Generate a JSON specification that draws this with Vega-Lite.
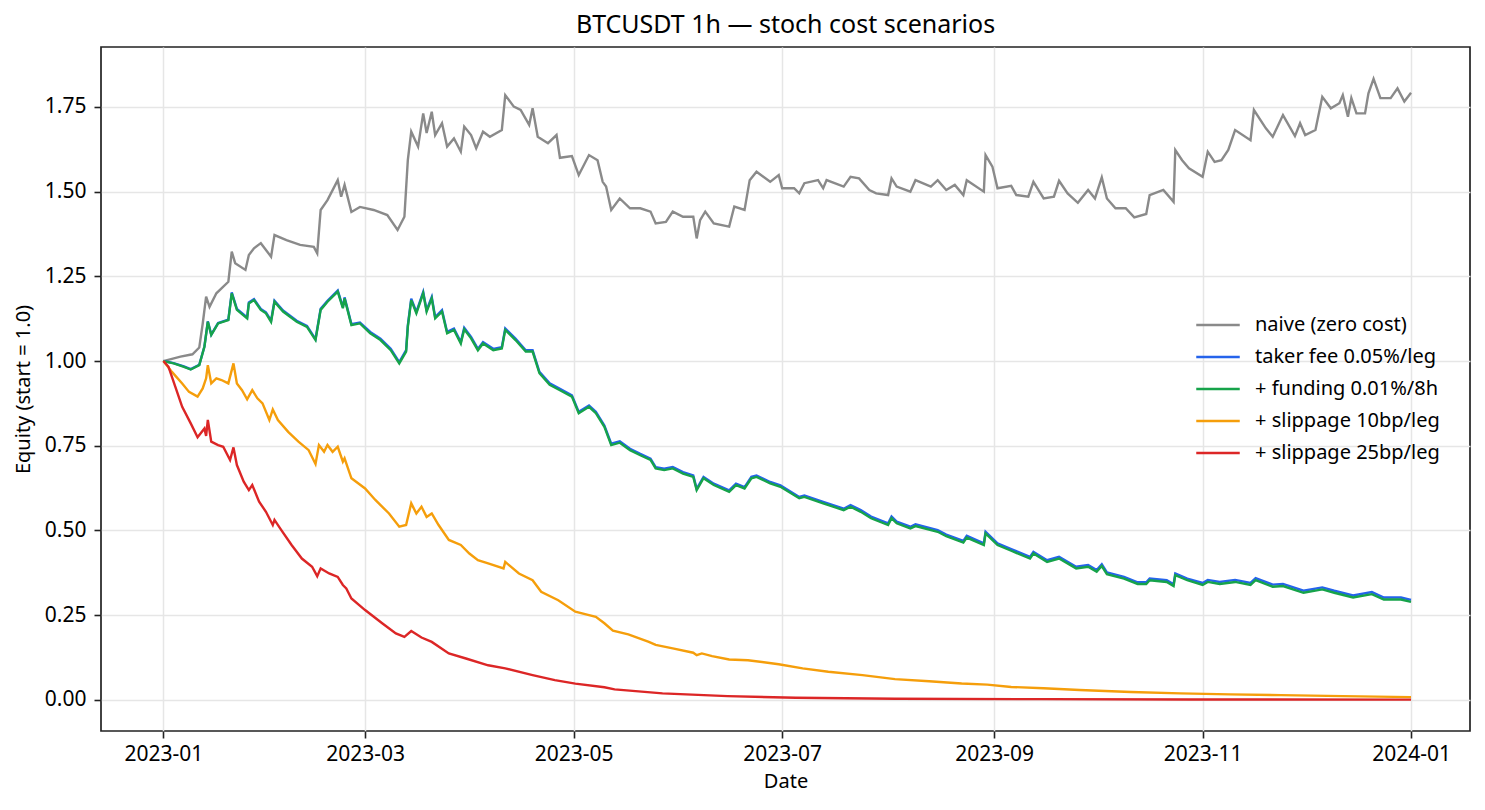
{
  "$schema": "https://vega.github.io/schema/vega-lite/v6.json",
  "autosize": "none",
  "width": 1369,
  "height": 684,
  "padding": {"left": 101, "top": 47, "right": 15, "bottom": 79},
  "background": "white",
  "config": {
    "font": "Noto Sans",
    "view": {"stroke": "#222222", "strokeWidth": 1.7},
    "axis": {
      "domain": false,
      "gridColor": "#e6e6e6",
      "gridWidth": 1.5,
      "tickColor": "#222222",
      "tickSize": 7,
      "tickWidth": 1.6,
      "labelFontSize": 21,
      "labelColor": "#000000",
      "titleFontSize": 20,
      "titleFontWeight": "normal",
      "titleColor": "#000000"
    }
  },
  "title": {
    "text": "BTCUSDT 1h — stoch cost scenarios",
    "fontSize": 25,
    "fontWeight": "normal",
    "color": "#000000",
    "offset": 9
  },
  "datasets": {
    "naive": [
      {"t": "2023-01-01T00:00", "v": 1.000}, {"t": "2023-01-06T00:00", "v": 1.013}, {"t": "2023-01-09T12:00", "v": 1.020},
      {"t": "2023-01-11T12:00", "v": 1.040}, {"t": "2023-01-12T12:00", "v": 1.110}, {"t": "2023-01-13T12:00", "v": 1.190},
      {"t": "2023-01-14T12:00", "v": 1.160}, {"t": "2023-01-16T12:00", "v": 1.200}, {"t": "2023-01-20T00:00", "v": 1.234},
      {"t": "2023-01-21T00:00", "v": 1.323}, {"t": "2023-01-22T00:00", "v": 1.289}, {"t": "2023-01-25T00:00", "v": 1.269},
      {"t": "2023-01-26T00:00", "v": 1.313}, {"t": "2023-01-27T12:00", "v": 1.333}, {"t": "2023-01-29T12:00", "v": 1.348},
      {"t": "2023-02-01T12:00", "v": 1.308}, {"t": "2023-02-02T12:00", "v": 1.372}, {"t": "2023-02-06T00:00", "v": 1.357},
      {"t": "2023-02-10T00:00", "v": 1.343}, {"t": "2023-02-14T00:00", "v": 1.337}, {"t": "2023-02-15T00:00", "v": 1.318},
      {"t": "2023-02-16T00:00", "v": 1.446}, {"t": "2023-02-18T00:00", "v": 1.475}, {"t": "2023-02-21T00:00", "v": 1.534},
      {"t": "2023-02-22T00:00", "v": 1.485}, {"t": "2023-02-23T00:00", "v": 1.520}, {"t": "2023-02-25T00:00", "v": 1.440},
      {"t": "2023-02-27T12:00", "v": 1.455}, {"t": "2023-03-03T12:00", "v": 1.446}, {"t": "2023-03-07T12:00", "v": 1.431},
      {"t": "2023-03-10T12:00", "v": 1.387}, {"t": "2023-03-12T12:00", "v": 1.426}, {"t": "2023-03-13T12:00", "v": 1.593},
      {"t": "2023-03-14T12:00", "v": 1.677}, {"t": "2023-03-16T12:00", "v": 1.633}, {"t": "2023-03-18T00:00", "v": 1.731},
      {"t": "2023-03-19T00:00", "v": 1.673}, {"t": "2023-03-20T12:00", "v": 1.736}, {"t": "2023-03-21T12:00", "v": 1.667},
      {"t": "2023-03-23T12:00", "v": 1.702}, {"t": "2023-03-25T00:00", "v": 1.633}, {"t": "2023-03-27T00:00", "v": 1.657},
      {"t": "2023-03-29T00:00", "v": 1.618}, {"t": "2023-03-30T00:00", "v": 1.692}, {"t": "2023-04-01T00:00", "v": 1.667},
      {"t": "2023-04-02T12:00", "v": 1.628}, {"t": "2023-04-04T12:00", "v": 1.677}, {"t": "2023-04-06T12:00", "v": 1.662},
      {"t": "2023-04-10T00:00", "v": 1.682}, {"t": "2023-04-11T00:00", "v": 1.785}, {"t": "2023-04-13T12:00", "v": 1.751},
      {"t": "2023-04-15T12:00", "v": 1.741}, {"t": "2023-04-18T00:00", "v": 1.697}, {"t": "2023-04-19T00:00", "v": 1.746},
      {"t": "2023-04-20T12:00", "v": 1.662}, {"t": "2023-04-23T12:00", "v": 1.643}, {"t": "2023-04-26T00:00", "v": 1.667},
      {"t": "2023-04-27T00:00", "v": 1.600}, {"t": "2023-04-30T12:00", "v": 1.605}, {"t": "2023-05-02T12:00", "v": 1.549},
      {"t": "2023-05-05T12:00", "v": 1.608}, {"t": "2023-05-08T00:00", "v": 1.593}, {"t": "2023-05-09T12:00", "v": 1.529},
      {"t": "2023-05-10T12:00", "v": 1.515}, {"t": "2023-05-12T00:00", "v": 1.446}, {"t": "2023-05-14T12:00", "v": 1.480},
      {"t": "2023-05-17T12:00", "v": 1.451}, {"t": "2023-05-20T12:00", "v": 1.451}, {"t": "2023-05-23T12:00", "v": 1.441},
      {"t": "2023-05-25T00:00", "v": 1.406}, {"t": "2023-05-28T00:00", "v": 1.411}, {"t": "2023-05-30T00:00", "v": 1.441},
      {"t": "2023-06-02T00:00", "v": 1.426}, {"t": "2023-06-05T00:00", "v": 1.426}, {"t": "2023-06-06T00:00", "v": 1.362},
      {"t": "2023-06-07T00:00", "v": 1.416}, {"t": "2023-06-08T12:00", "v": 1.441}, {"t": "2023-06-11T00:00", "v": 1.406},
      {"t": "2023-06-15T12:00", "v": 1.397}, {"t": "2023-06-17T00:00", "v": 1.456}, {"t": "2023-06-20T00:00", "v": 1.446},
      {"t": "2023-06-21T12:00", "v": 1.534}, {"t": "2023-06-23T12:00", "v": 1.559}, {"t": "2023-06-27T12:00", "v": 1.529},
      {"t": "2023-06-30T00:00", "v": 1.549}, {"t": "2023-07-01T00:00", "v": 1.510}, {"t": "2023-07-04T12:00", "v": 1.510},
      {"t": "2023-07-06T00:00", "v": 1.495}, {"t": "2023-07-07T12:00", "v": 1.525}, {"t": "2023-07-11T12:00", "v": 1.534},
      {"t": "2023-07-13T00:00", "v": 1.510}, {"t": "2023-07-14T00:00", "v": 1.534}, {"t": "2023-07-19T00:00", "v": 1.515},
      {"t": "2023-07-21T00:00", "v": 1.544}, {"t": "2023-07-23T12:00", "v": 1.539}, {"t": "2023-07-26T12:00", "v": 1.505},
      {"t": "2023-07-28T12:00", "v": 1.495}, {"t": "2023-08-01T00:00", "v": 1.490}, {"t": "2023-08-02T00:00", "v": 1.539},
      {"t": "2023-08-03T12:00", "v": 1.515}, {"t": "2023-08-07T12:00", "v": 1.500}, {"t": "2023-08-09T00:00", "v": 1.534},
      {"t": "2023-08-13T12:00", "v": 1.515}, {"t": "2023-08-15T12:00", "v": 1.534}, {"t": "2023-08-18T00:00", "v": 1.505},
      {"t": "2023-08-20T12:00", "v": 1.520}, {"t": "2023-08-23T00:00", "v": 1.490}, {"t": "2023-08-24T00:00", "v": 1.534},
      {"t": "2023-08-29T00:00", "v": 1.500}, {"t": "2023-08-29T12:00", "v": 1.608}, {"t": "2023-08-31T12:00", "v": 1.574},
      {"t": "2023-09-02T00:00", "v": 1.510}, {"t": "2023-09-06T00:00", "v": 1.517}, {"t": "2023-09-07T12:00", "v": 1.490},
      {"t": "2023-09-11T00:00", "v": 1.485}, {"t": "2023-09-12T12:00", "v": 1.529}, {"t": "2023-09-15T12:00", "v": 1.480},
      {"t": "2023-09-18T12:00", "v": 1.485}, {"t": "2023-09-20T00:00", "v": 1.532}, {"t": "2023-09-22T12:00", "v": 1.495},
      {"t": "2023-09-25T12:00", "v": 1.467}, {"t": "2023-09-28T12:00", "v": 1.505}, {"t": "2023-09-30T12:00", "v": 1.480},
      {"t": "2023-10-02T12:00", "v": 1.542}, {"t": "2023-10-04T00:00", "v": 1.480}, {"t": "2023-10-06T12:00", "v": 1.451},
      {"t": "2023-10-09T12:00", "v": 1.451}, {"t": "2023-10-12T00:00", "v": 1.424}, {"t": "2023-10-15T12:00", "v": 1.434},
      {"t": "2023-10-16T12:00", "v": 1.490}, {"t": "2023-10-20T12:00", "v": 1.505}, {"t": "2023-10-23T12:00", "v": 1.470},
      {"t": "2023-10-24T00:00", "v": 1.623}, {"t": "2023-10-26T00:00", "v": 1.593}, {"t": "2023-10-28T00:00", "v": 1.569},
      {"t": "2023-11-01T00:00", "v": 1.544}, {"t": "2023-11-02T12:00", "v": 1.618}, {"t": "2023-11-04T12:00", "v": 1.588},
      {"t": "2023-11-06T12:00", "v": 1.593}, {"t": "2023-11-08T12:00", "v": 1.623}, {"t": "2023-11-10T12:00", "v": 1.682},
      {"t": "2023-11-15T00:00", "v": 1.652}, {"t": "2023-11-16T00:00", "v": 1.741}, {"t": "2023-11-19T12:00", "v": 1.687},
      {"t": "2023-11-21T12:00", "v": 1.662}, {"t": "2023-11-24T12:00", "v": 1.726}, {"t": "2023-11-28T00:00", "v": 1.664},
      {"t": "2023-11-29T12:00", "v": 1.702}, {"t": "2023-12-01T00:00", "v": 1.667}, {"t": "2023-12-04T00:00", "v": 1.682},
      {"t": "2023-12-06T00:00", "v": 1.780}, {"t": "2023-12-08T12:00", "v": 1.746}, {"t": "2023-12-11T00:00", "v": 1.761},
      {"t": "2023-12-12T00:00", "v": 1.785}, {"t": "2023-12-13T12:00", "v": 1.721}, {"t": "2023-12-14T12:00", "v": 1.776},
      {"t": "2023-12-16T00:00", "v": 1.731}, {"t": "2023-12-18T12:00", "v": 1.731}, {"t": "2023-12-19T12:00", "v": 1.790},
      {"t": "2023-12-21T00:00", "v": 1.833}, {"t": "2023-12-23T00:00", "v": 1.776}, {"t": "2023-12-26T00:00", "v": 1.776},
      {"t": "2023-12-28T00:00", "v": 1.805}, {"t": "2023-12-30T00:00", "v": 1.766}, {"t": "2023-12-31T23:00", "v": 1.792}
    ],
    "taker": [
      {"t": "2023-01-01T00:00", "v": 1.000}, {"t": "2023-01-04T00:00", "v": 0.994}, {"t": "2023-01-07T00:00", "v": 0.984},
      {"t": "2023-01-09T00:00", "v": 0.976}, {"t": "2023-01-11T12:00", "v": 0.989}, {"t": "2023-01-13T00:00", "v": 1.043},
      {"t": "2023-01-14T00:00", "v": 1.117}, {"t": "2023-01-15T00:00", "v": 1.078}, {"t": "2023-01-17T00:00", "v": 1.112},
      {"t": "2023-01-20T00:00", "v": 1.122}, {"t": "2023-01-21T00:00", "v": 1.203}, {"t": "2023-01-22T12:00", "v": 1.154},
      {"t": "2023-01-25T12:00", "v": 1.129}, {"t": "2023-01-26T00:00", "v": 1.173}, {"t": "2023-01-27T12:00", "v": 1.183},
      {"t": "2023-01-29T12:00", "v": 1.154}, {"t": "2023-01-31T00:00", "v": 1.144}, {"t": "2023-02-01T12:00", "v": 1.119},
      {"t": "2023-02-02T12:00", "v": 1.178}, {"t": "2023-02-05T00:00", "v": 1.149}, {"t": "2023-02-09T00:00", "v": 1.119},
      {"t": "2023-02-12T00:00", "v": 1.104}, {"t": "2023-02-14T12:00", "v": 1.065}, {"t": "2023-02-16T00:00", "v": 1.154},
      {"t": "2023-02-18T00:00", "v": 1.178}, {"t": "2023-02-21T00:00", "v": 1.208}, {"t": "2023-02-22T12:00", "v": 1.159},
      {"t": "2023-02-23T00:00", "v": 1.188}, {"t": "2023-02-25T00:00", "v": 1.109}, {"t": "2023-02-27T12:00", "v": 1.114},
      {"t": "2023-03-02T12:00", "v": 1.086}, {"t": "2023-03-05T12:00", "v": 1.066}, {"t": "2023-03-08T12:00", "v": 1.036},
      {"t": "2023-03-11T00:00", "v": 0.997}, {"t": "2023-03-13T00:00", "v": 1.032}, {"t": "2023-03-13T12:00", "v": 1.105},
      {"t": "2023-03-14T12:00", "v": 1.184}, {"t": "2023-03-16T00:00", "v": 1.145}, {"t": "2023-03-18T00:00", "v": 1.204},
      {"t": "2023-03-19T00:00", "v": 1.150}, {"t": "2023-03-20T12:00", "v": 1.189}, {"t": "2023-03-21T12:00", "v": 1.130},
      {"t": "2023-03-23T12:00", "v": 1.150}, {"t": "2023-03-25T00:00", "v": 1.086}, {"t": "2023-03-27T00:00", "v": 1.096},
      {"t": "2023-03-29T00:00", "v": 1.056}, {"t": "2023-03-30T00:00", "v": 1.098}, {"t": "2023-04-01T00:00", "v": 1.071},
      {"t": "2023-04-03T00:00", "v": 1.036}, {"t": "2023-04-04T12:00", "v": 1.056}, {"t": "2023-04-07T12:00", "v": 1.036},
      {"t": "2023-04-10T00:00", "v": 1.041}, {"t": "2023-04-11T00:00", "v": 1.096}, {"t": "2023-04-14T00:00", "v": 1.066},
      {"t": "2023-04-17T00:00", "v": 1.032}, {"t": "2023-04-19T00:00", "v": 1.032}, {"t": "2023-04-21T00:00", "v": 0.968},
      {"t": "2023-04-24T00:00", "v": 0.934}, {"t": "2023-04-27T00:00", "v": 0.918}, {"t": "2023-04-30T12:00", "v": 0.899},
      {"t": "2023-05-02T12:00", "v": 0.850}, {"t": "2023-05-05T12:00", "v": 0.869}, {"t": "2023-05-07T12:00", "v": 0.850},
      {"t": "2023-05-10T00:00", "v": 0.810}, {"t": "2023-05-12T00:00", "v": 0.756}, {"t": "2023-05-14T12:00", "v": 0.763},
      {"t": "2023-05-17T12:00", "v": 0.741}, {"t": "2023-05-20T12:00", "v": 0.726}, {"t": "2023-05-23T12:00", "v": 0.712},
      {"t": "2023-05-25T00:00", "v": 0.687}, {"t": "2023-05-27T12:00", "v": 0.682}, {"t": "2023-05-30T00:00", "v": 0.687},
      {"t": "2023-06-02T00:00", "v": 0.672}, {"t": "2023-06-05T00:00", "v": 0.662}, {"t": "2023-06-06T00:00", "v": 0.623},
      {"t": "2023-06-08T00:00", "v": 0.658}, {"t": "2023-06-11T00:00", "v": 0.638}, {"t": "2023-06-15T12:00", "v": 0.618},
      {"t": "2023-06-17T12:00", "v": 0.638}, {"t": "2023-06-20T00:00", "v": 0.628}, {"t": "2023-06-22T00:00", "v": 0.658},
      {"t": "2023-06-23T12:00", "v": 0.662}, {"t": "2023-06-27T12:00", "v": 0.643}, {"t": "2023-06-30T12:00", "v": 0.633},
      {"t": "2023-07-06T00:00", "v": 0.599}, {"t": "2023-07-07T12:00", "v": 0.603}, {"t": "2023-07-13T00:00", "v": 0.584},
      {"t": "2023-07-19T00:00", "v": 0.564}, {"t": "2023-07-21T00:00", "v": 0.575}, {"t": "2023-07-24T00:00", "v": 0.560},
      {"t": "2023-07-27T00:00", "v": 0.541}, {"t": "2023-08-01T00:00", "v": 0.521}, {"t": "2023-08-02T00:00", "v": 0.541},
      {"t": "2023-08-03T12:00", "v": 0.526}, {"t": "2023-08-07T12:00", "v": 0.511}, {"t": "2023-08-09T00:00", "v": 0.518},
      {"t": "2023-08-15T12:00", "v": 0.501}, {"t": "2023-08-18T00:00", "v": 0.488}, {"t": "2023-08-23T00:00", "v": 0.469},
      {"t": "2023-08-24T00:00", "v": 0.484}, {"t": "2023-08-29T00:00", "v": 0.462}, {"t": "2023-08-29T12:00", "v": 0.496},
      {"t": "2023-09-02T00:00", "v": 0.462}, {"t": "2023-09-06T00:00", "v": 0.445}, {"t": "2023-09-11T12:00", "v": 0.422},
      {"t": "2023-09-12T12:00", "v": 0.437}, {"t": "2023-09-16T12:00", "v": 0.412}, {"t": "2023-09-20T00:00", "v": 0.422},
      {"t": "2023-09-25T00:00", "v": 0.393}, {"t": "2023-09-28T12:00", "v": 0.398}, {"t": "2023-10-01T00:00", "v": 0.383},
      {"t": "2023-10-02T12:00", "v": 0.400}, {"t": "2023-10-04T00:00", "v": 0.376}, {"t": "2023-10-09T00:00", "v": 0.363},
      {"t": "2023-10-13T00:00", "v": 0.347}, {"t": "2023-10-15T12:00", "v": 0.347}, {"t": "2023-10-16T12:00", "v": 0.358},
      {"t": "2023-10-21T12:00", "v": 0.353}, {"t": "2023-10-23T12:00", "v": 0.341}, {"t": "2023-10-24T00:00", "v": 0.373},
      {"t": "2023-10-27T12:00", "v": 0.358}, {"t": "2023-11-01T00:00", "v": 0.345}, {"t": "2023-11-02T12:00", "v": 0.354},
      {"t": "2023-11-06T00:00", "v": 0.348}, {"t": "2023-11-10T12:00", "v": 0.354}, {"t": "2023-11-15T00:00", "v": 0.345},
      {"t": "2023-11-16T12:00", "v": 0.359}, {"t": "2023-11-21T12:00", "v": 0.340}, {"t": "2023-11-24T12:00", "v": 0.342},
      {"t": "2023-11-30T12:00", "v": 0.322}, {"t": "2023-12-06T00:00", "v": 0.332}, {"t": "2023-12-09T12:00", "v": 0.322},
      {"t": "2023-12-15T00:00", "v": 0.308}, {"t": "2023-12-20T12:00", "v": 0.318}, {"t": "2023-12-24T00:00", "v": 0.302},
      {"t": "2023-12-29T00:00", "v": 0.302}, {"t": "2023-12-31T23:00", "v": 0.295}
    ],
    "funding": [
      {"t": "2023-01-01T00:00", "v": 1.000}, {"t": "2023-01-04T00:00", "v": 0.993}, {"t": "2023-01-07T00:00", "v": 0.983},
      {"t": "2023-01-09T00:00", "v": 0.975}, {"t": "2023-01-11T12:00", "v": 0.988}, {"t": "2023-01-13T00:00", "v": 1.042},
      {"t": "2023-01-14T00:00", "v": 1.116}, {"t": "2023-01-15T00:00", "v": 1.077}, {"t": "2023-01-17T00:00", "v": 1.111},
      {"t": "2023-01-20T00:00", "v": 1.121}, {"t": "2023-01-21T00:00", "v": 1.200}, {"t": "2023-01-22T12:00", "v": 1.151},
      {"t": "2023-01-25T12:00", "v": 1.126}, {"t": "2023-01-26T00:00", "v": 1.170}, {"t": "2023-01-27T12:00", "v": 1.180},
      {"t": "2023-01-29T12:00", "v": 1.151}, {"t": "2023-01-31T00:00", "v": 1.141}, {"t": "2023-02-01T12:00", "v": 1.116},
      {"t": "2023-02-02T12:00", "v": 1.175}, {"t": "2023-02-05T00:00", "v": 1.146}, {"t": "2023-02-09T00:00", "v": 1.116},
      {"t": "2023-02-12T00:00", "v": 1.101}, {"t": "2023-02-14T12:00", "v": 1.062}, {"t": "2023-02-16T00:00", "v": 1.151},
      {"t": "2023-02-18T00:00", "v": 1.175}, {"t": "2023-02-21T00:00", "v": 1.205}, {"t": "2023-02-22T12:00", "v": 1.156},
      {"t": "2023-02-23T00:00", "v": 1.185}, {"t": "2023-02-25T00:00", "v": 1.106}, {"t": "2023-02-27T12:00", "v": 1.111},
      {"t": "2023-03-02T12:00", "v": 1.082}, {"t": "2023-03-05T12:00", "v": 1.062}, {"t": "2023-03-08T12:00", "v": 1.032},
      {"t": "2023-03-11T00:00", "v": 0.993}, {"t": "2023-03-13T00:00", "v": 1.028}, {"t": "2023-03-13T12:00", "v": 1.101},
      {"t": "2023-03-14T12:00", "v": 1.180}, {"t": "2023-03-16T00:00", "v": 1.141}, {"t": "2023-03-18T00:00", "v": 1.200},
      {"t": "2023-03-19T00:00", "v": 1.146}, {"t": "2023-03-20T12:00", "v": 1.185}, {"t": "2023-03-21T12:00", "v": 1.126},
      {"t": "2023-03-23T12:00", "v": 1.146}, {"t": "2023-03-25T00:00", "v": 1.082}, {"t": "2023-03-27T00:00", "v": 1.092},
      {"t": "2023-03-29T00:00", "v": 1.052}, {"t": "2023-03-30T00:00", "v": 1.094}, {"t": "2023-04-01T00:00", "v": 1.067},
      {"t": "2023-04-03T00:00", "v": 1.032}, {"t": "2023-04-04T12:00", "v": 1.052}, {"t": "2023-04-07T12:00", "v": 1.032},
      {"t": "2023-04-10T00:00", "v": 1.037}, {"t": "2023-04-11T00:00", "v": 1.092}, {"t": "2023-04-14T00:00", "v": 1.062},
      {"t": "2023-04-17T00:00", "v": 1.028}, {"t": "2023-04-19T00:00", "v": 1.028}, {"t": "2023-04-21T00:00", "v": 0.964},
      {"t": "2023-04-24T00:00", "v": 0.930}, {"t": "2023-04-27T00:00", "v": 0.914}, {"t": "2023-04-30T12:00", "v": 0.895},
      {"t": "2023-05-02T12:00", "v": 0.846}, {"t": "2023-05-05T12:00", "v": 0.865}, {"t": "2023-05-07T12:00", "v": 0.846},
      {"t": "2023-05-10T00:00", "v": 0.806}, {"t": "2023-05-12T00:00", "v": 0.752}, {"t": "2023-05-14T12:00", "v": 0.759},
      {"t": "2023-05-17T12:00", "v": 0.737}, {"t": "2023-05-20T12:00", "v": 0.722}, {"t": "2023-05-23T12:00", "v": 0.708},
      {"t": "2023-05-25T00:00", "v": 0.683}, {"t": "2023-05-27T12:00", "v": 0.678}, {"t": "2023-05-30T00:00", "v": 0.683},
      {"t": "2023-06-02T00:00", "v": 0.668}, {"t": "2023-06-05T00:00", "v": 0.658}, {"t": "2023-06-06T00:00", "v": 0.619},
      {"t": "2023-06-08T00:00", "v": 0.654}, {"t": "2023-06-11T00:00", "v": 0.634}, {"t": "2023-06-15T12:00", "v": 0.614},
      {"t": "2023-06-17T12:00", "v": 0.634}, {"t": "2023-06-20T00:00", "v": 0.624}, {"t": "2023-06-22T00:00", "v": 0.654},
      {"t": "2023-06-23T12:00", "v": 0.658}, {"t": "2023-06-27T12:00", "v": 0.639}, {"t": "2023-06-30T12:00", "v": 0.629},
      {"t": "2023-07-06T00:00", "v": 0.595}, {"t": "2023-07-07T12:00", "v": 0.599}, {"t": "2023-07-13T00:00", "v": 0.580},
      {"t": "2023-07-19T00:00", "v": 0.560}, {"t": "2023-07-21T00:00", "v": 0.570}, {"t": "2023-07-24T00:00", "v": 0.555},
      {"t": "2023-07-27T00:00", "v": 0.536}, {"t": "2023-08-01T00:00", "v": 0.516}, {"t": "2023-08-02T00:00", "v": 0.536},
      {"t": "2023-08-03T12:00", "v": 0.521}, {"t": "2023-08-07T12:00", "v": 0.506}, {"t": "2023-08-09T00:00", "v": 0.513},
      {"t": "2023-08-15T12:00", "v": 0.496}, {"t": "2023-08-18T00:00", "v": 0.483}, {"t": "2023-08-23T00:00", "v": 0.464},
      {"t": "2023-08-24T00:00", "v": 0.479}, {"t": "2023-08-29T00:00", "v": 0.457}, {"t": "2023-08-29T12:00", "v": 0.491},
      {"t": "2023-09-02T00:00", "v": 0.457}, {"t": "2023-09-06T00:00", "v": 0.440}, {"t": "2023-09-11T12:00", "v": 0.417},
      {"t": "2023-09-12T12:00", "v": 0.432}, {"t": "2023-09-16T12:00", "v": 0.407}, {"t": "2023-09-20T00:00", "v": 0.417},
      {"t": "2023-09-25T00:00", "v": 0.388}, {"t": "2023-09-28T12:00", "v": 0.393}, {"t": "2023-10-01T00:00", "v": 0.378},
      {"t": "2023-10-02T12:00", "v": 0.395}, {"t": "2023-10-04T00:00", "v": 0.371}, {"t": "2023-10-09T00:00", "v": 0.358},
      {"t": "2023-10-13T00:00", "v": 0.342}, {"t": "2023-10-15T12:00", "v": 0.342}, {"t": "2023-10-16T12:00", "v": 0.353},
      {"t": "2023-10-21T12:00", "v": 0.348}, {"t": "2023-10-23T12:00", "v": 0.336}, {"t": "2023-10-24T00:00", "v": 0.368},
      {"t": "2023-10-27T12:00", "v": 0.353}, {"t": "2023-11-01T00:00", "v": 0.339}, {"t": "2023-11-02T12:00", "v": 0.348},
      {"t": "2023-11-06T00:00", "v": 0.342}, {"t": "2023-11-10T12:00", "v": 0.348}, {"t": "2023-11-15T00:00", "v": 0.339},
      {"t": "2023-11-16T12:00", "v": 0.353}, {"t": "2023-11-21T12:00", "v": 0.334}, {"t": "2023-11-24T12:00", "v": 0.336},
      {"t": "2023-11-30T12:00", "v": 0.316}, {"t": "2023-12-06T00:00", "v": 0.326}, {"t": "2023-12-09T12:00", "v": 0.316},
      {"t": "2023-12-15T00:00", "v": 0.302}, {"t": "2023-12-20T12:00", "v": 0.312}, {"t": "2023-12-24T00:00", "v": 0.296},
      {"t": "2023-12-29T00:00", "v": 0.296}, {"t": "2023-12-31T23:00", "v": 0.289}
    ],
    "slip10": [
      {"t": "2023-01-01T00:00", "v": 1.000}, {"t": "2023-01-03T12:00", "v": 0.968}, {"t": "2023-01-06T12:00", "v": 0.934},
      {"t": "2023-01-08T12:00", "v": 0.909}, {"t": "2023-01-11T00:00", "v": 0.895}, {"t": "2023-01-12T12:00", "v": 0.919},
      {"t": "2023-01-13T12:00", "v": 0.949}, {"t": "2023-01-14T00:00", "v": 0.988}, {"t": "2023-01-15T00:00", "v": 0.934},
      {"t": "2023-01-16T12:00", "v": 0.949}, {"t": "2023-01-18T00:00", "v": 0.944}, {"t": "2023-01-20T00:00", "v": 0.934},
      {"t": "2023-01-21T12:00", "v": 0.993}, {"t": "2023-01-22T12:00", "v": 0.934}, {"t": "2023-01-24T00:00", "v": 0.914},
      {"t": "2023-01-25T12:00", "v": 0.887}, {"t": "2023-01-27T00:00", "v": 0.914}, {"t": "2023-01-28T12:00", "v": 0.890},
      {"t": "2023-01-30T00:00", "v": 0.875}, {"t": "2023-02-01T00:00", "v": 0.826}, {"t": "2023-02-02T00:00", "v": 0.857},
      {"t": "2023-02-03T12:00", "v": 0.826}, {"t": "2023-02-06T12:00", "v": 0.791}, {"t": "2023-02-09T12:00", "v": 0.762},
      {"t": "2023-02-12T12:00", "v": 0.737}, {"t": "2023-02-14T12:00", "v": 0.696}, {"t": "2023-02-15T12:00", "v": 0.752},
      {"t": "2023-02-17T00:00", "v": 0.732}, {"t": "2023-02-18T00:00", "v": 0.752}, {"t": "2023-02-19T12:00", "v": 0.732},
      {"t": "2023-02-21T00:00", "v": 0.747}, {"t": "2023-02-22T12:00", "v": 0.703}, {"t": "2023-02-23T00:00", "v": 0.713},
      {"t": "2023-02-25T00:00", "v": 0.654}, {"t": "2023-03-01T00:00", "v": 0.624}, {"t": "2023-03-04T00:00", "v": 0.590},
      {"t": "2023-03-08T00:00", "v": 0.550}, {"t": "2023-03-11T00:00", "v": 0.511}, {"t": "2023-03-13T00:00", "v": 0.516},
      {"t": "2023-03-14T12:00", "v": 0.580}, {"t": "2023-03-16T00:00", "v": 0.550}, {"t": "2023-03-17T12:00", "v": 0.570},
      {"t": "2023-03-19T00:00", "v": 0.540}, {"t": "2023-03-20T12:00", "v": 0.550}, {"t": "2023-03-22T12:00", "v": 0.516},
      {"t": "2023-03-25T12:00", "v": 0.472}, {"t": "2023-03-29T00:00", "v": 0.457}, {"t": "2023-03-31T12:00", "v": 0.432},
      {"t": "2023-04-03T00:00", "v": 0.412}, {"t": "2023-04-06T00:00", "v": 0.403}, {"t": "2023-04-10T12:00", "v": 0.388},
      {"t": "2023-04-11T00:00", "v": 0.407}, {"t": "2023-04-15T00:00", "v": 0.373}, {"t": "2023-04-19T00:00", "v": 0.353},
      {"t": "2023-04-21T12:00", "v": 0.319}, {"t": "2023-04-26T12:00", "v": 0.294}, {"t": "2023-05-01T12:00", "v": 0.260},
      {"t": "2023-05-05T12:00", "v": 0.250}, {"t": "2023-05-07T12:00", "v": 0.245}, {"t": "2023-05-10T00:00", "v": 0.226},
      {"t": "2023-05-12T12:00", "v": 0.204}, {"t": "2023-05-17T00:00", "v": 0.193}, {"t": "2023-05-23T00:00", "v": 0.171},
      {"t": "2023-05-25T00:00", "v": 0.162}, {"t": "2023-05-30T00:00", "v": 0.152}, {"t": "2023-06-05T00:00", "v": 0.139},
      {"t": "2023-06-06T00:00", "v": 0.132}, {"t": "2023-06-07T12:00", "v": 0.137}, {"t": "2023-06-10T12:00", "v": 0.129},
      {"t": "2023-06-15T12:00", "v": 0.119}, {"t": "2023-06-21T00:00", "v": 0.117}, {"t": "2023-06-30T00:00", "v": 0.105},
      {"t": "2023-07-07T00:00", "v": 0.093}, {"t": "2023-07-14T12:00", "v": 0.083}, {"t": "2023-07-24T12:00", "v": 0.073},
      {"t": "2023-08-03T00:00", "v": 0.061}, {"t": "2023-08-13T00:00", "v": 0.055}, {"t": "2023-08-22T12:00", "v": 0.048},
      {"t": "2023-08-30T00:00", "v": 0.045}, {"t": "2023-09-06T00:00", "v": 0.038}, {"t": "2023-09-15T12:00", "v": 0.034},
      {"t": "2023-09-26T00:00", "v": 0.029}, {"t": "2023-10-11T00:00", "v": 0.023}, {"t": "2023-10-25T12:00", "v": 0.019},
      {"t": "2023-11-09T00:00", "v": 0.016}, {"t": "2023-11-24T00:00", "v": 0.014}, {"t": "2023-12-12T00:00", "v": 0.011},
      {"t": "2023-12-31T23:00", "v": 0.008}
    ],
    "slip25": [
      {"t": "2023-01-01T00:00", "v": 1.000}, {"t": "2023-01-02T12:00", "v": 0.983}, {"t": "2023-01-04T12:00", "v": 0.924},
      {"t": "2023-01-06T12:00", "v": 0.865}, {"t": "2023-01-09T00:00", "v": 0.816}, {"t": "2023-01-11T00:00", "v": 0.775},
      {"t": "2023-01-13T00:00", "v": 0.801}, {"t": "2023-01-13T12:00", "v": 0.779}, {"t": "2023-01-14T00:00", "v": 0.826},
      {"t": "2023-01-15T00:00", "v": 0.762}, {"t": "2023-01-17T00:00", "v": 0.752}, {"t": "2023-01-18T12:00", "v": 0.747},
      {"t": "2023-01-20T12:00", "v": 0.708}, {"t": "2023-01-21T12:00", "v": 0.745}, {"t": "2023-01-22T12:00", "v": 0.693},
      {"t": "2023-01-24T12:00", "v": 0.644}, {"t": "2023-01-26T00:00", "v": 0.619}, {"t": "2023-01-27T00:00", "v": 0.634},
      {"t": "2023-01-29T00:00", "v": 0.585}, {"t": "2023-01-31T00:00", "v": 0.555}, {"t": "2023-02-02T00:00", "v": 0.516},
      {"t": "2023-02-02T12:00", "v": 0.531}, {"t": "2023-02-04T12:00", "v": 0.501}, {"t": "2023-02-07T12:00", "v": 0.457},
      {"t": "2023-02-10T12:00", "v": 0.417}, {"t": "2023-02-13T12:00", "v": 0.393}, {"t": "2023-02-15T00:00", "v": 0.365},
      {"t": "2023-02-16T00:00", "v": 0.388}, {"t": "2023-02-18T12:00", "v": 0.373}, {"t": "2023-02-21T00:00", "v": 0.363},
      {"t": "2023-02-22T12:00", "v": 0.339}, {"t": "2023-02-23T12:00", "v": 0.329}, {"t": "2023-02-25T00:00", "v": 0.299},
      {"t": "2023-03-01T00:00", "v": 0.265}, {"t": "2023-03-06T00:00", "v": 0.226}, {"t": "2023-03-10T00:00", "v": 0.196},
      {"t": "2023-03-12T12:00", "v": 0.186}, {"t": "2023-03-14T12:00", "v": 0.203}, {"t": "2023-03-17T12:00", "v": 0.184},
      {"t": "2023-03-20T12:00", "v": 0.171}, {"t": "2023-03-25T12:00", "v": 0.137}, {"t": "2023-03-30T12:00", "v": 0.122},
      {"t": "2023-04-06T00:00", "v": 0.102}, {"t": "2023-04-11T00:00", "v": 0.093}, {"t": "2023-04-19T00:00", "v": 0.073},
      {"t": "2023-04-25T12:00", "v": 0.058}, {"t": "2023-05-01T12:00", "v": 0.048}, {"t": "2023-05-10T00:00", "v": 0.037},
      {"t": "2023-05-13T00:00", "v": 0.031}, {"t": "2023-05-27T00:00", "v": 0.019}, {"t": "2023-06-15T00:00", "v": 0.011},
      {"t": "2023-07-05T00:00", "v": 0.006}, {"t": "2023-08-03T00:00", "v": 0.003}, {"t": "2023-09-15T00:00", "v": 0.002},
      {"t": "2023-10-28T00:00", "v": 0.001}, {"t": "2023-12-31T23:00", "v": 0.0005}
    ]
  },
  "encoding": {
    "x": {
      "field": "t",
      "type": "temporal",
      "scale": {
        "domain": [
          {"year": 2022, "month": 12, "date": 13, "hours": 18},
          {"year": 2024, "month": 1, "date": 18, "hours": 5}
        ]
      },
      "axis": {
        "title": "Date",
        "format": "%Y-%m",
        "tickCount": {"interval": "month", "step": 2},
        "labelPadding": 5,
        "titlePadding": 7,
        "labelFlush": false
      }
    },
    "y": {
      "field": "v",
      "type": "quantitative",
      "scale": {"domain": [-0.092, 1.927], "nice": false, "zero": false},
      "axis": {
        "title": "Equity (start = 1.0)",
        "values": [0, 0.25, 0.5, 0.75, 1.0, 1.25, 1.5, 1.75],
        "format": ".2f",
        "labelPadding": 8,
        "titlePadding": 11
      }
    }
  },
  "layer": [
    {
      "data": {"name": "naive"},
      "mark": {"type": "line", "strokeWidth": 2.4},
      "encoding": {
        "color": {
          "datum": "naive (zero cost)",
          "type": "nominal",
          "scale": {
            "domain": ["naive (zero cost)", "taker fee 0.05%/leg", "+ funding 0.01%/8h", "+ slippage 10bp/leg", "+ slippage 25bp/leg"],
            "range": ["#8a8a8a", "#2563eb", "#16a34a", "#f59e0b", "#dc2626"]
          },
          "legend": {
            "title": null,
            "orient": "none",
            "legendX": 1101,
            "legendY": 262,
            "symbolType": "M-1.5,0H1.5",
            "symbolSize": 841,
            "symbolStrokeWidth": 2.6,
            "labelFontSize": 20,
            "labelColor": "#000000",
            "labelLimit": 0,
            "labelOffset": 21,
            "rowPadding": 6,
            "padding": 0
          }
        }
      }
    },
    {
      "data": {"name": "taker"},
      "mark": {"type": "line", "strokeWidth": 2.4},
      "encoding": {"color": {"datum": "taker fee 0.05%/leg", "type": "nominal"}}
    },
    {
      "data": {"name": "funding"},
      "mark": {"type": "line", "strokeWidth": 2.4},
      "encoding": {"color": {"datum": "+ funding 0.01%/8h", "type": "nominal"}}
    },
    {
      "data": {"name": "slip10"},
      "mark": {"type": "line", "strokeWidth": 2.4},
      "encoding": {"color": {"datum": "+ slippage 10bp/leg", "type": "nominal"}}
    },
    {
      "data": {"name": "slip25"},
      "mark": {"type": "line", "strokeWidth": 2.4},
      "encoding": {"color": {"datum": "+ slippage 25bp/leg", "type": "nominal"}}
    }
  ]
}
